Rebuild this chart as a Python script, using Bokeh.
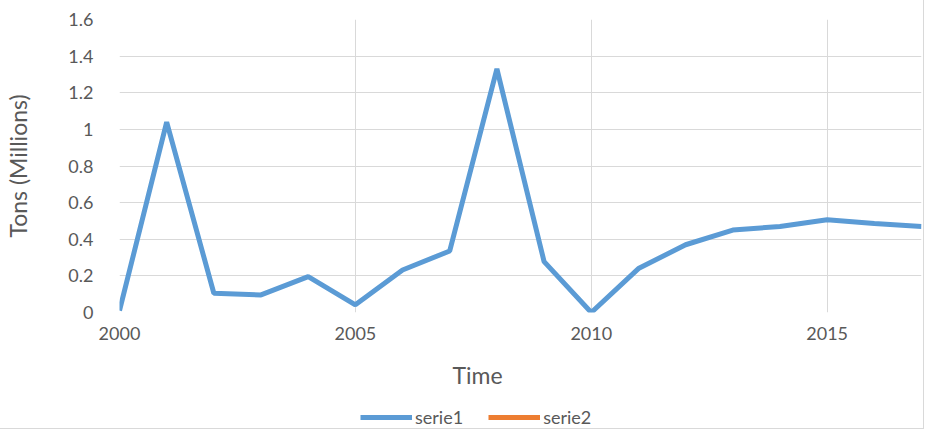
from bokeh.plotting import figure
from bokeh.layouts import column
from bokeh.models import ColumnDataSource, FixedTicker, Legend, LegendItem, Title
from bokeh.embed import file_html
from bokeh.resources import INLINE

years = list(range(2000, 2018))
serie1 = [0.01, 1.04, 0.105, 0.096, 0.196, 0.042, 0.232, 0.336, 1.33, 0.278,
          0.0, 0.24, 0.37, 0.45, 0.47, 0.507, 0.486, 0.47]
# serie2 has no plotted values (missing data)
serie2 = [None, None, None, None, None, None, None, None, None, None,
          None, None, None, None, None, None, None, None]
x_ticks = [2000, 2005, 2010, 2015]
y_ticks = [0, 0.2, 0.4, 0.6, 0.8, 1.0, 1.2, 1.4, 1.6]
y_tick_labels = ["0", "0.2", "0.4", "0.6", "0.8", "1", "1.2", "1.4", "1.6"]

FONT = "Lato"
TXT = "#595959"
GRID = "#d9d9d9"
C1 = "#5B9BD5"
C2 = "#ED7D31"

p = figure(width=923, height=405, output_backend="svg", toolbar_location=None,
           x_range=(2000, 2017), y_range=(0, 1.6),
           min_border_left=119, min_border_right=2, min_border_top=19,
           min_border_bottom=92, outline_line_color=None)

src1 = ColumnDataSource(dict(x=years, y=serie1))
src2 = ColumnDataSource(dict(x=years, y=[float("nan") if v is None else v for v in serie2]))
p.line("x", "y", source=src1, line_color=C1, line_width=5)
p.line("x", "y", source=src2, line_color=C2, line_width=5)

p.xaxis.ticker = FixedTicker(ticks=x_ticks)
p.yaxis.ticker = FixedTicker(ticks=y_ticks)
p.yaxis.major_label_overrides = {t: l for t, l in zip(y_ticks, y_tick_labels)}

for ax in (p.xaxis[0], p.yaxis[0]):
    ax.axis_line_color = None
    ax.major_tick_line_color = None
    ax.minor_tick_line_color = None
    ax.major_label_text_font = FONT
    ax.major_label_text_font_size = "18px"
    ax.major_label_text_color = TXT

p.xaxis.major_label_standoff = 8
p.yaxis.major_label_standoff = 20
p.yaxis.axis_label = "Tons (Millions)"
p.yaxis.axis_label_text_font = FONT
p.yaxis.axis_label_text_font_size = "23px"
p.yaxis.axis_label_text_font_style = "normal"
p.yaxis.axis_label_text_color = TXT
p.yaxis.axis_label_standoff = 33

p.xgrid.ticker = FixedTicker(ticks=x_ticks)
p.ygrid.ticker = FixedTicker(ticks=y_ticks)
p.xgrid.grid_line_color = GRID
p.ygrid.grid_line_color = GRID

p.add_layout(Title(text="Time", align="left", offset=333, standoff=33,
                   text_font=FONT, text_font_size="23px",
                   text_font_style="normal", text_color=TXT), "below")

# legend strip below the chart (its frame is aligned with the chart's frame)
lg = figure(width=923, height=23, output_backend="svg", toolbar_location=None,
            x_axis_location=None, y_axis_location=None,
            x_range=(0, 1), y_range=(0, 1), min_border=0,
            outline_line_color=None)
lg.grid.visible = False
l1 = lg.line("x", "y", source=src1, line_color=C1, line_width=5)
l2 = lg.line("x", "y", source=src2, line_color=C2, line_width=5)
legend = Legend(items=[LegendItem(label="serie1", renderers=[l1], index=0),
                       LegendItem(label="serie2", renderers=[l2], index=0)],
                location=(241, 0), orientation="horizontal",
                glyph_width=52, glyph_height=16, label_standoff=3, spacing=25,
                padding=0, margin=0, border_line_color=None,
                background_fill_alpha=0,
                label_text_font=FONT, label_text_font_size="18px",
                label_text_color=TXT, label_height=16)
lg.add_layout(legend, "center")

layout = column(p, lg, spacing=0,
                styles={"outline": "1px solid #d9d9d9"})

open("out.html", "w").write(file_html(layout, INLINE))
